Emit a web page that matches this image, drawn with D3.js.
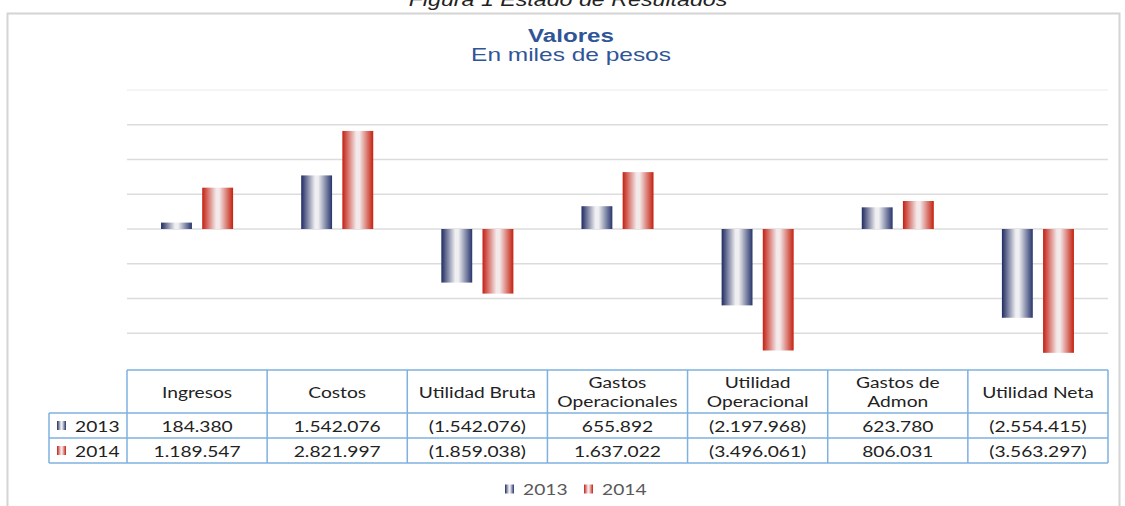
<!DOCTYPE html>
<html>
<head>
<meta charset="utf-8">
<script src="https://cdn.jsdelivr.net/npm/d3@7"></script>
<style>
  body { margin: 0; background: #fff; }
  svg { display: block; }
</style>
</head>
<body>
<script>
// Data
const categories = ["Ingresos", "Costos", "Utilidad Bruta", "Gastos Operacionales", "Utilidad Operacional", "Gastos de Admon", "Utilidad Neta"];
const headerLines = [["Ingresos"], ["Costos"], ["Utilidad Bruta"], ["Gastos", "Operacionales"], ["Utilidad", "Operacional"], ["Gastos de", "Admon"], ["Utilidad Neta"]];
const series = ["2013", "2014"];
const values2013 = [184380, 1542076, -1542076, 655892, -2197968, 623780, -2554415];
const values2014 = [1189547, 2821997, -1859038, 1637022, -3496061, 806031, -3563297];
const gridTicks = [-3e6, -2e6, -1e6, 0, 1e6, 2e6, 3e6, 4e6];

const W = 1125, H = 506;
const plot = { left: 127, right: 1108, top: 90, bottom: 368 };

const svg = d3.select("body").append("svg")
    .attr("width", W)
    .attr("height", H);

// the source picture is stretched sideways, so the text is too
function stretchedText(parent, x, y, str, font, color, anchor, sx) {
    return parent.append("text")
        .attr("transform", `translate(${x},${y}) scale(${sx},1)`)
        .attr("text-anchor", anchor)
        .style("font", font)
        .style("fill", color)
        .text(str);
}

// Gradients for the bars
const defs = svg.append("defs");
function gradient(id, edgeL, mid, edgeR) {
    const g = defs.append("linearGradient").attr("id", id)
        .attr("x1", "0%").attr("x2", "100%").attr("y1", "0%").attr("y2", "0%");
    g.append("stop").attr("offset", "0%").attr("stop-color", edgeL);
    g.append("stop").attr("offset", "45%").attr("stop-color", mid);
    g.append("stop").attr("offset", "55%").attr("stop-color", mid);
    g.append("stop").attr("offset", "100%").attr("stop-color", edgeR);
}
gradient("g2013", "#1f2b62", "#efeff1", "#27356c");
gradient("g2014", "#c41f12", "#f3e9ea", "#c5200f");
const fills = { "2013": "url(#g2013)", "2014": "url(#g2014)" };

// Caption (cut off at the top) and frame
stretchedText(svg, 568, 6, "Figura 1 Estado de Resultados",
    "italic 18px 'Liberation Sans', Arial, sans-serif", "#222", "middle", 1.29);

svg.append("path")
    .attr("d", `M7.5,${H} V13.5 H1119.5 V${H}`)
    .attr("fill", "none")
    .attr("stroke", "#d4d4d4")
    .attr("stroke-width", 2);

// Title
stretchedText(svg, 571, 42, "Valores",
    "bold 19px 'Liberation Sans', Arial, sans-serif", "#2f5597", "middle", 1.27);
stretchedText(svg, 571, 61, "En miles de pesos",
    "18px 'Liberation Sans', Arial, sans-serif", "#2f5597", "middle", 1.36);

// Scales
const x = d3.scaleBand()
    .domain(categories)
    .range([plot.left, plot.right])
    .padding(0);

const xs = d3.scaleBand()
    .domain(series)
    .range([x.bandwidth() * 0.243, x.bandwidth() * 0.757])
    .paddingInner(0.25);

const y = d3.scaleLinear()
    .domain([-4e6, 4e6])
    .range([plot.bottom, plot.top]);

// Gridlines
svg.append("g")
    .selectAll("line")
    .data(gridTicks)
    .join("line")
    .attr("x1", plot.left).attr("x2", plot.right)
    .attr("y1", d => y(d)).attr("y2", d => y(d))
    .attr("stroke", d => d === 4e6 ? "#f2f2f2" : "#dcdcdc")
    .attr("stroke-width", 1.5);

// Bars
const rows = categories.map((c, i) => ({ cat: c, "2013": values2013[i], "2014": values2014[i] }));
const groups = svg.append("g")
    .selectAll("g")
    .data(rows)
    .join("g")
    .attr("transform", d => `translate(${x(d.cat)},0)`);

groups.selectAll("rect")
    .data(d => series.map(s => ({ s, v: d[s] })))
    .join("rect")
    .attr("x", d => xs(d.s))
    .attr("width", xs.bandwidth())
    .attr("y", d => y(Math.max(0, d.v)))
    .attr("height", d => Math.abs(y(d.v) - y(0)))
    .attr("fill", d => fills[d.s]);

// Data table
const tbl = { headTop: 370, headBottom: 413, row1Bottom: 438, row2Bottom: 463, labelLeft: 49 };
const border = "#7eb0e0";
const tableFont = "16px Lato, 'Open Sans', sans-serif";
const sxTable = 1.2;
const t = svg.append("g");

// horizontal lines
t.append("line").attr("x1", plot.left).attr("x2", plot.right)
    .attr("y1", tbl.headTop).attr("y2", tbl.headTop);
[tbl.headBottom, tbl.row1Bottom, tbl.row2Bottom].forEach(yy => {
    t.append("line").attr("x1", tbl.labelLeft).attr("x2", plot.right)
        .attr("y1", yy).attr("y2", yy);
});
// vertical lines
categories.forEach(c => {
    t.append("line").attr("x1", x(c)).attr("x2", x(c))
        .attr("y1", tbl.headTop).attr("y2", tbl.row2Bottom);
});
t.append("line").attr("x1", plot.right).attr("x2", plot.right)
    .attr("y1", tbl.headTop).attr("y2", tbl.row2Bottom);
t.append("line").attr("x1", tbl.labelLeft).attr("x2", tbl.labelLeft)
    .attr("y1", tbl.headBottom).attr("y2", tbl.row2Bottom);
t.selectAll("line").attr("stroke", border).attr("stroke-width", 1.5);

// header text
categories.forEach((c, i) => {
    const lines = headerLines[i];
    const cx = x(c) + x.bandwidth() / 2;
    const mid = (tbl.headTop + tbl.headBottom) / 2;
    lines.forEach((ln, j) => {
        stretchedText(t, cx, mid + (j - (lines.length - 1) / 2) * 19 + 6,
            ln, tableFont, "#222", "middle", sxTable);
    });
});

// number formatting: dots as thousands separators, negatives in parentheses
const fmt = v => {
    const s = d3.format(",")(Math.abs(v)).replace(/,/g, ".");
    return v < 0 ? `(${s})` : s;
};

const seriesValues = { "2013": values2013, "2014": values2014 };
series.forEach((s, r) => {
    const top = r === 0 ? tbl.headBottom : tbl.row1Bottom;
    const bottom = r === 0 ? tbl.row1Bottom : tbl.row2Bottom;
    const cy = (top + bottom) / 2;
    t.append("rect")
        .attr("x", 57).attr("y", cy - 4.5)
        .attr("width", 9).attr("height", 9)
        .attr("fill", fills[s]);
    stretchedText(t, 75, cy + 6, s, tableFont, "#222", "start", sxTable);
    categories.forEach((c, i) => {
        stretchedText(t, x(c) + x.bandwidth() / 2, cy + 6,
            fmt(seriesValues[s][i]), tableFont, "#222", "middle", sxTable);
    });
});

// Legend
const legend = svg.append("g").attr("transform", "translate(505,489)");
const legendItems = legend.selectAll("g")
    .data(series)
    .join("g")
    .attr("transform", (d, i) => `translate(${i * 79},0)`);
legendItems.append("rect")
    .attr("x", 0).attr("y", -4.5)
    .attr("width", 9).attr("height", 9)
    .attr("fill", d => fills[d]);
legendItems.each(function (d) {
    stretchedText(d3.select(this), 18, 6, d, tableFont, "#595959", "start", sxTable);
});
</script>
</body>
</html>
